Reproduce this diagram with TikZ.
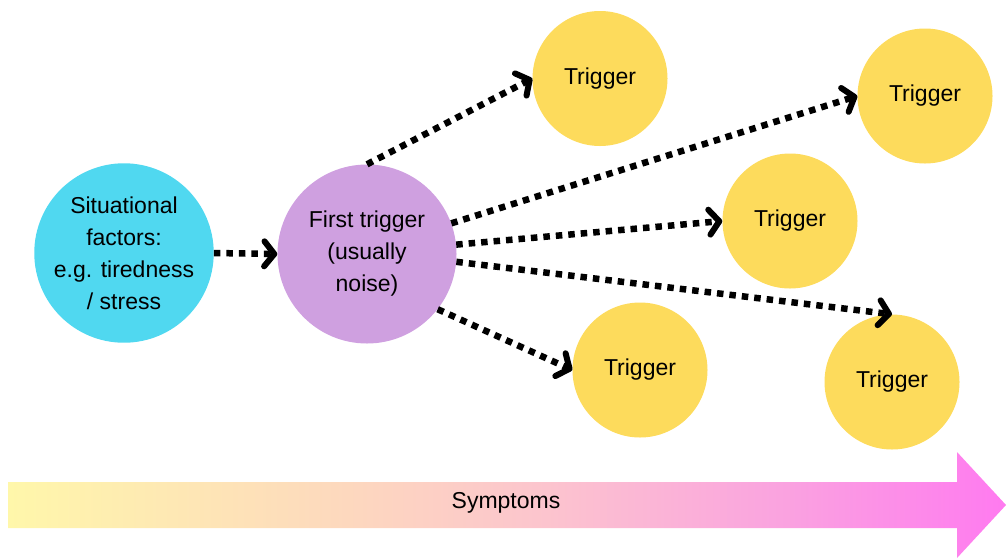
\documentclass[tikz,border=0pt]{standalone}
\usepackage{fontspec}
\setmainfont{Liberation Sans}
\usetikzlibrary{arrows.meta}
\definecolor{sitblue}{RGB}{80,216,240}
\definecolor{firstpurple}{RGB}{207,160,224}
\definecolor{trigyellow}{RGB}{253,219,92}
\definecolor{gA}{RGB}{255,247,170}
\definecolor{gB}{RGB}{253,216,190}
\definecolor{gC}{RGB}{252,196,206}
\definecolor{gD}{RGB}{250,162,224}
\definecolor{gE}{RGB}{255,122,240}
\pgfdeclarehorizontalshading{symgrad}{100bp}{color(0bp)=(gA); color(25bp)=(gA); color(42bp)=(gB); color(52bp)=(gC); color(64bp)=(gD); color(75bp)=(gE); color(100bp)=(gE)}
\begin{document}
\begin{tikzpicture}[x=1pt,y=-1pt,
  txt/.style={font=\fontsize{23}{32}\selectfont},
  bigcircle/.style={circle,inner sep=0pt,minimum size=178pt,align=center,txt},
  trig/.style={circle,fill=trigyellow,inner sep=0pt,minimum size=135pt,txt},
  conn/.style={line width=6.5pt,dash pattern=on 6.5pt off 6pt,
    -{Straight Barb[length=10pt,width=25pt,line width=6pt,line cap=round,line join=round]}}]
\useasboundingbox (0,0) rectangle (1006,558);
% bottom arrow
\shade[shading=symgrad] (8,482) -- (957,482) -- (957,452) -- (1006,505) -- (957,558) -- (957,528) -- (8,528) -- cycle;
\node[txt] (sym) at (506,503) {Symptoms};
% circles
\node[bigcircle,fill=sitblue] (b) at (124,253) {Situational\\factors:\\e.g. tiredness\\/ stress};
\node[bigcircle,fill=firstpurple,minimum size=179pt] (p) at (367,254) {First trigger\\(usually\\noise)};
\node[trig] (t1) at (600,78.5) {Trigger};
\node[trig] (t2) at (925,96) {Trigger};
\node[trig] (t3) at (790,221) {Trigger};
\node[trig] (t4) at (640,370) {Trigger};
\node[trig] (t5) at (892,382) {Trigger};
% connectors
\draw[conn] (b.east) -- (p.west);
\draw[conn] (p.north) -- (t1.west);
\draw[conn] (p.20) -- (t2.west);
\draw[conn] (p.6) -- (t3.west);
\draw[conn] (p.-5) -- (t5.north);
\draw[conn] (p.-38) -- (t4.west);
\end{tikzpicture}
\end{document}
